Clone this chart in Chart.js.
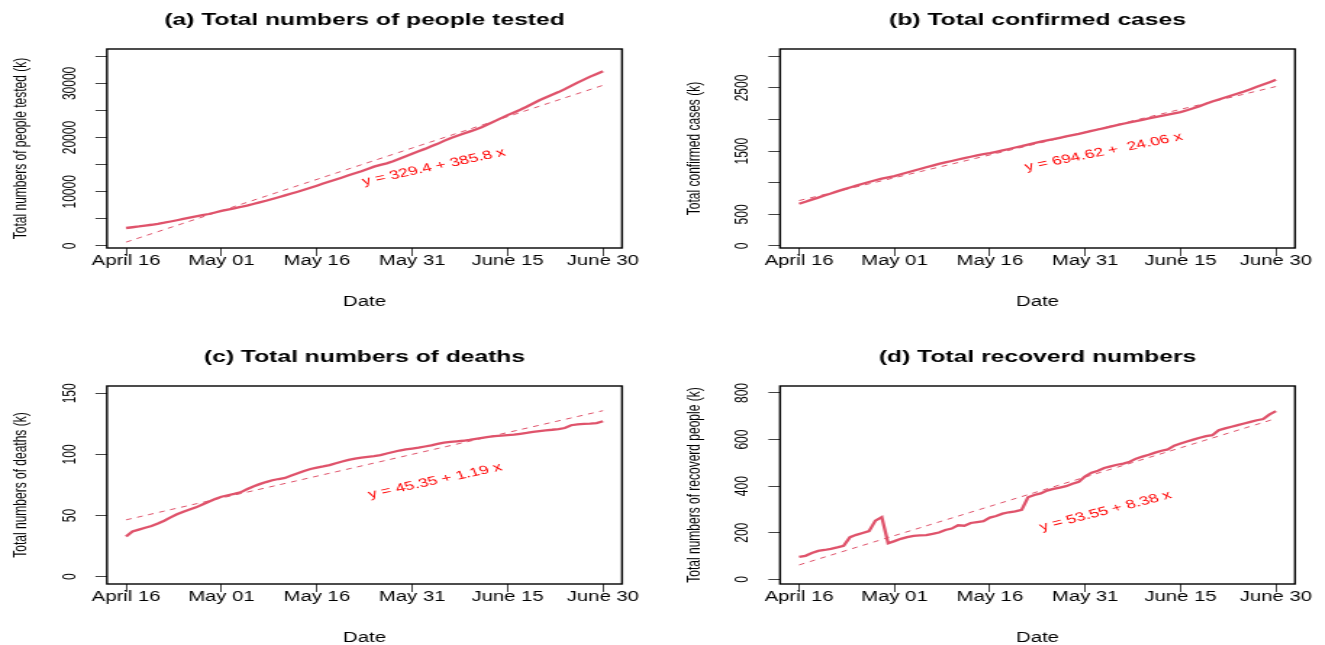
<!DOCTYPE html>
<html>
<head>
<meta charset="utf-8">
<title>Totals April 16 - June 30</title>
<script src="https://cdn.jsdelivr.net/npm/chart.js@4.4.0/dist/chart.umd.min.js"></script>
<style>
  html, body { margin:0; padding:0; background:#fff; }
  #wrap { position:relative; width:1325px; height:645px; overflow:hidden; background:#fff; }
  #wrap canvas { position:absolute; }
</style>
</head>
<body>
<div id="wrap"></div>
<script>
// day 1 = April 16, day 76 = June 30
const days = Array.from({length: 76}, (_, i) => i + 1);
const xTickDays = [1, 16, 31, 46, 61, 76];
const xTickLabels = ['April 16', 'May 01', 'May 16', 'May 31', 'June 15', 'June 30'];

// values in thousands
const tested = [3320, 3460, 3600, 3760, 3920, 4100, 4300, 4520, 4750, 4990,
  5230, 5450, 5680, 5900, 6180, 6480, 6720, 6960, 7200, 7460,
  7750, 8050, 8350, 8680, 9000, 9330, 9680, 10020, 10380, 10750,
  11130, 11520, 11900, 12280, 12650, 13040, 13420, 13800, 14220, 14640,
  14960, 15250, 15650, 16100, 16560, 17040, 17480, 17920, 18400, 18850,
  19400, 19900, 20300, 20700, 21100, 21500, 21950, 22500, 23050, 23600,
  24150, 24650, 25150, 25700, 26300, 26900, 27400, 27900, 28400, 28950,
  29550, 30150, 30700, 31250, 31750, 32230];
const confirmed = [669, 700, 733, 765, 798, 830, 864, 895, 925, 955,
  985, 1012, 1040, 1065, 1085, 1105, 1135, 1162, 1190, 1218,
  1245, 1272, 1300, 1323, 1345, 1368, 1390, 1412, 1435, 1452,
  1468, 1490, 1512, 1535, 1558, 1580, 1605, 1628, 1650, 1670,
  1690, 1712, 1733, 1755, 1775, 1797, 1820, 1843, 1866, 1889,
  1911, 1934, 1955, 1976, 1997, 2018, 2038, 2058, 2078, 2098,
  2118, 2148, 2180, 2213, 2250, 2287, 2318, 2350, 2381, 2413,
  2445, 2481, 2518, 2555, 2592, 2630];
const deaths = [32.8, 36.9, 38.5, 40.0, 41.5, 43.5, 45.8, 48.5, 51.0, 53.2,
  55.0, 56.7, 59.0, 61.3, 63.5, 65.4, 66.6, 67.7, 69.0, 71.5,
  73.8, 75.7, 77.4, 78.9, 79.9, 80.8, 82.7, 84.6, 86.5, 88.1,
  89.2, 90.2, 91.3, 92.8, 94.2, 95.5, 96.6, 97.4, 98.0, 98.6,
  99.5, 100.8, 102.0, 103.2, 104.1, 104.8, 105.5, 106.5, 107.5, 108.6,
  109.6, 110.2, 110.7, 111.2, 111.9, 112.8, 113.6, 114.3, 114.9, 115.4,
  115.8, 116.2, 116.9, 117.6, 118.4, 119.1, 119.7, 120.2, 120.8, 121.6,
  123.9, 124.6, 125.0, 125.3, 125.7, 127.2];
const recovered = [96, 101, 113, 122, 126, 131, 137, 144, 181, 191,
  199, 207, 252, 267, 155, 164, 174, 181, 187, 189,
  190, 195, 201, 212, 218, 232, 230, 242, 246, 250,
  265, 272, 282, 288, 292, 298, 352, 362, 369, 381,
  388, 394, 400, 410, 419, 442, 458, 466, 478, 485,
  492, 497, 505, 518, 527, 535, 544, 552, 558, 574,
  583, 592, 600, 608, 615, 619, 640, 648, 655, 662,
  669, 676, 683, 688, 708, 722];

// fitted lines, value at day 1 and day 76
const fitDays = [1, 76];
const testedFit = [715.2, 29650.2];
const confirmedFit = [718.7, 2523.2];
const deathsFit = [46.5, 135.8];
const recoveredFit = [61.9, 690.4];

const testedTicks = [0, 5000, 10000, 15000, 20000, 25000, 30000, 35000];
const testedTickLabels = ['0', '', '10000', '', '20000', '', '30000', ''];
const confirmedTicks = [0, 500, 1000, 1500, 2000, 2500, 3000];
const confirmedTickLabels = ['0', '500', '', '1500', '', '2500', ''];
const deathsTicks = [0, 50, 100, 150];
const deathsTickLabels = ['0', '50', '100', '150'];
const recoveredTicks = [0, 200, 400, 600, 800];
const recoveredTickLabels = ['0', '200', '400', '600', '800'];

const LINE = '#DF536B';
const FONT = '"Liberation Sans", Arial, Helvetica, sans-serif';
const STRETCH = 1.45; // the picture is wider than it is tall

const panels = [
  { title: '(a) Total numbers of people tested', ylab: 'Total numbers of people tested (k)',
    series: tested, fit: testedFit, ticks: testedTicks, tickLabels: testedTickLabels,
    yMin: -370, yMax: 36350, eq: 'y = 329.4 + 385.8 x', eqAt: [49.4, 14580], eqAngle: 17,
    region: [0, 0, 662, 322], box: [107, 49, 622, 248] },
  { title: '(b) Total confirmed cases', ylab: 'Total confirmed cases (k)',
    series: confirmed, fit: confirmedFit, ticks: confirmedTicks, tickLabels: confirmedTickLabels,
    yMin: -32, yMax: 3117, eq: 'y = 694.62 +  24.06 x', eqAt: [48.9, 1487], eqAngle: 16,
    region: [662, 0, 663, 322], box: [780, 49, 1295, 248] },
  { title: '(c) Total numbers of deaths', ylab: 'Total numbers of deaths (k)',
    series: deaths, fit: deathsFit, ticks: deathsTicks, tickLabels: deathsTickLabels,
    yMin: -6, yMax: 156, eq: 'y = 45.35 + 1.19 x', eqAt: [49.6, 78.3], eqAngle: 17,
    region: [0, 322, 662, 323], box: [107, 386, 622, 584] },
  { title: '(d) Total recoverd numbers', ylab: 'Total numbers of recoverd people (k)',
    series: recovered, fit: recoveredFit, ticks: recoveredTicks, tickLabels: recoveredTickLabels,
    yMin: -20, yMax: 830, eq: 'y = 53.55 + 8.38 x', eqAt: [49.2, 293], eqAngle: 20,
    region: [662, 322, 663, 323], box: [780, 386, 1295, 584] }
];

// draws the frame and all text (R style)
const rFrame = {
  id: 'rFrame',
  afterDraw(chart, args, o) {
    const ctx = chart.ctx, a = chart.chartArea, xs = chart.scales.x, ys = chart.scales.y;
    const k = o.k, cx = (a.left + a.right) / 2;
    ctx.save();
    ctx.strokeStyle = '#000'; ctx.lineWidth = 1.4;
    ctx.strokeRect(a.left, a.top, a.right - a.left, a.bottom - a.top);

    ctx.fillStyle = '#000'; ctx.textAlign = 'center'; ctx.textBaseline = 'alphabetic';
    ctx.font = 'bold 17px ' + FONT;
    ctx.fillText(o.title, cx, a.top - 24);

    ctx.font = '14px ' + FONT;
    xTickDays.forEach((d, i) => ctx.fillText(xTickLabels[i], xs.getPixelForValue(d), a.bottom + 16.5));
    ctx.fillText('Date', cx, a.bottom + 58);

    ctx.font = '12px ' + FONT;
    o.ticks.forEach((v, i) => {
      if (!o.tickLabels[i]) return;
      ctx.save();
      ctx.translate(a.left - 32 / k, ys.getPixelForValue(v));
      ctx.rotate(-Math.PI / 2);
      ctx.fillText(o.tickLabels[i], 0, 0);
      ctx.restore();
    });
    ctx.save();
    ctx.translate(a.left - 81 / k, (a.top + a.bottom) / 2);
    ctx.rotate(-Math.PI / 2);
    ctx.fillText(o.ylab, 0, 0);
    ctx.restore();

    ctx.fillStyle = '#ff0000'; ctx.textBaseline = 'middle';
    ctx.translate(xs.getPixelForValue(o.eqAt[0]), ys.getPixelForValue(o.eqAt[1]));
    ctx.rotate(-o.eqAngle * Math.PI / 180);
    ctx.fillText(o.eq, 0, 0);
    ctx.restore();
  }
};

const wrap = document.getElementById('wrap');
panels.forEach(p => {
  const [x0, y0, w, h] = p.region;
  const [L, T, R, B] = p.box;
  const wi = Math.round(w / STRETCH);
  const k = w / wi;
  const canvas = document.createElement('canvas');
  canvas.width = wi; canvas.height = h;
  canvas.style.left = x0 + 'px'; canvas.style.top = y0 + 'px';
  canvas.style.width = w + 'px'; canvas.style.height = h + 'px';
  wrap.appendChild(canvas);

  const yAxisW = (L - x0) / k;
  const xAxisH = (y0 + h) - B;
  const padRight = wi - (R - x0) / k;
  const tickGrid = { display: true, drawOnChartArea: false, drawTicks: true, tickLength: 8, color: '#444', lineWidth: 1 };

  new Chart(canvas, {
    type: 'line',
    data: {
      datasets: [
        { data: p.series.map((v, i) => ({x: days[i], y: v})), borderColor: LINE, borderWidth: 2.3,
          pointRadius: 0, tension: 0, order: 1 },
        { data: fitDays.map((d, i) => ({x: d, y: p.fit[i]})), borderColor: LINE, borderWidth: 1,
          borderDash: [4, 4], pointRadius: 0, tension: 0, order: 0 }
      ]
    },
    options: {
      responsive: false, animation: false, devicePixelRatio: 1,
      layout: { padding: { left: 0, top: T - y0, right: padRight, bottom: 0 } },
      plugins: {
        legend: { display: false }, tooltip: { enabled: false }, title: { display: false },
        rFrame: { k, title: p.title, ylab: p.ylab, ticks: p.ticks, tickLabels: p.tickLabels,
          eq: p.eq, eqAt: p.eqAt, eqAngle: p.eqAngle }
      },
      scales: {
        x: { type: 'linear', min: -2, max: 79, bounds: 'data',
          afterBuildTicks: s => { s.ticks = xTickDays.map(v => ({value: v})); },
          afterFit: s => { s.height = xAxisH; },
          ticks: { display: false, autoSkip: false }, grid: tickGrid, border: { display: false } },
        y: { type: 'linear', min: p.yMin, max: p.yMax, bounds: 'data',
          afterBuildTicks: s => { s.ticks = p.ticks.map(v => ({value: v})); },
          afterFit: s => { s.width = yAxisW; },
          ticks: { display: false, autoSkip: false }, grid: tickGrid, border: { display: false } }
      }
    },
    plugins: [rFrame]
  });
});
</script>
</body>
</html>
